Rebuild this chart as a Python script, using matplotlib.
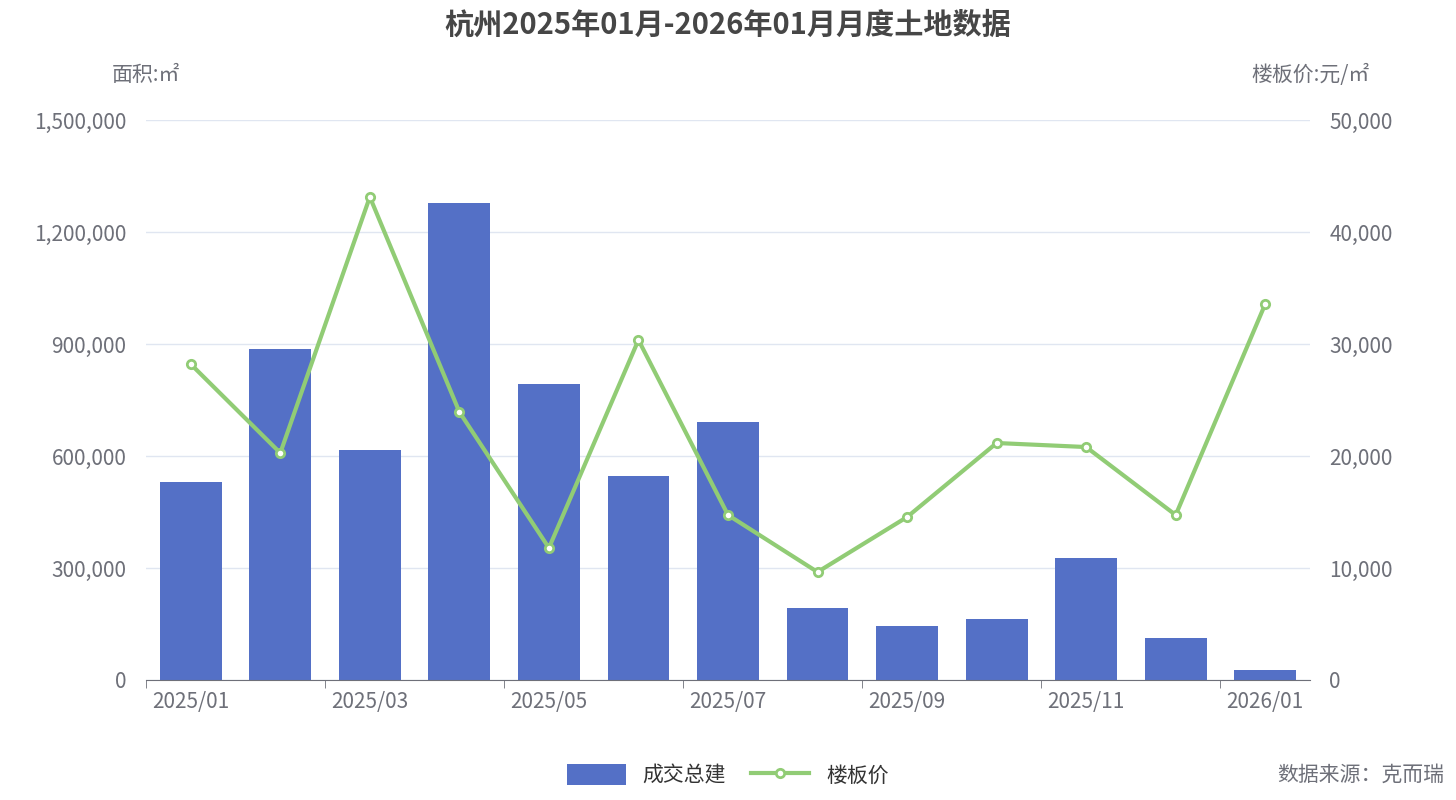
import matplotlib
matplotlib.use("Agg")
import matplotlib.pyplot as plt
from matplotlib.ticker import FuncFormatter, FixedLocator
import numpy as np

plt.rcParams['font.family'] = ['Noto Sans CJK SC', 'DejaVu Sans']

months = ["2025/01","2025/02","2025/03","2025/04","2025/05","2025/06","2025/07",
          "2025/08","2025/09","2025/10","2025/11","2025/12","2026/01"]
area = [530000, 887000, 616000, 1278000, 793000, 546000, 691000,
        193000, 145000, 163000, 327000, 112500, 27000]
price = [28200, 20270, 43130, 23930, 11790, 30360, 14730,
         9640, 14550, 21160, 20800, 14730, 33570]

fig = plt.figure(figsize=(14.56, 8), dpi=100)
ax = fig.add_axes([146/1456, 1-680/800, (1310-146)/1456, 560/800])
ax2 = ax.twinx()

x = np.arange(len(months))
bar_c = '#5470c6'; line_c = '#91cc75'; txt_c = '#6e7079'
ax.bar(x, area, width=0.69, color=bar_c, zorder=2, label='成交总建')
ax2.plot(x, price, color=line_c, lw=3, marker='o', ms=6, mfc='white',
         mec=line_c, mew=2, zorder=3, label='楼板价')

ax.set_xlim(-0.5, len(months)-0.5)
ax.set_ylim(0, 1500000)
ax2.set_ylim(0, 50000)
ax.set_yticks(np.arange(0, 1500001, 300000))
ax2.set_yticks(np.arange(0, 50001, 10000))
ax.yaxis.set_major_formatter(FuncFormatter(lambda v, p: f"{int(v):,}"))
ax2.yaxis.set_major_formatter(FuncFormatter(lambda v, p: f"{int(v):,}"))
ax.grid(axis='y', color='#e0e6f1', lw=1, zorder=0)

ax.set_xticks(x[::2])
ax.set_xticklabels(months[::2])
ax.xaxis.set_minor_locator(FixedLocator(np.arange(-0.5, len(months), 2)))
ax.tick_params(axis='x', which='major', length=0, labelsize=15, labelcolor=txt_c, pad=8)
ax.tick_params(axis='x', which='minor', length=6, color=txt_c)
for a in (ax, ax2):
    a.tick_params(axis='y', length=0, labelsize=15, labelcolor=txt_c, pad=14)
    for s in a.spines.values():
        s.set_visible(False)
ax.spines['bottom'].set_visible(True)
ax.spines['bottom'].set_color(txt_c)

fig.text(146/1456, 1-75/800, '面积:㎡', ha='center', va='center', fontsize=15, color=txt_c)
fig.text(1310/1456, 1-75/800, '楼板价:元/㎡', ha='center', va='center', fontsize=15, color=txt_c)
fig.text(0.5, 1-25/800, '杭州2025年01月-2026年01月月度土地数据', ha='center', va='center',
         fontsize=21, fontweight='bold', color='#464646')
fig.text(1444/1456, 1-775/800, '数据来源：克而瑞', ha='right', va='center', fontsize=15, color=txt_c)

h1, l1 = ax.get_legend_handles_labels()
h2, l2 = ax2.get_legend_handles_labels()
fig.legend(h1+h2, l1+l2, loc='center', bbox_to_anchor=(0.5, 1-775/800), ncol=2,
           frameon=False, fontsize=15, handlelength=2.8, handleheight=1.2, columnspacing=1.2,
           labelcolor='#333333')

fig.savefig('out.png', dpi=100)
